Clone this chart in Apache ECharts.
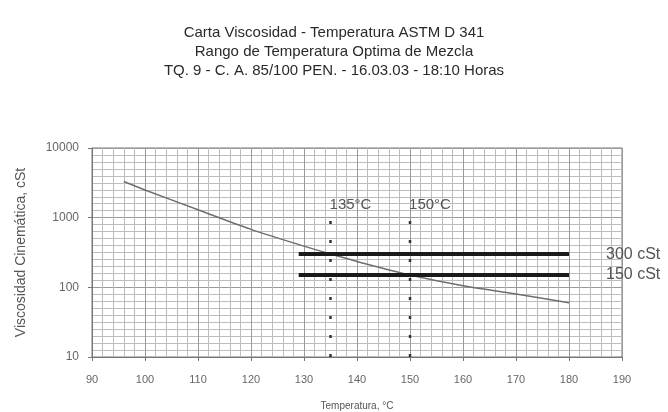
<!DOCTYPE html>
<html>
<head>
<meta charset="utf-8">
<script src="https://cdn.jsdelivr.net/npm/echarts@6/dist/echarts.min.js"></script>
<style>
  html, body { margin: 0; padding: 0; background: #fff; }
  #chart { width: 668px; height: 412px; }
</style>
</head>
<body>
<div id="chart"></div>
<script>
// Viscosity-temperature curve (°C, cSt)
const temperatures = [96, 100, 110, 120, 130, 135, 140, 150, 160, 170, 180];
const viscosities  = [3300, 2500, 1300, 680, 390, 300, 235, 150, 105, 80, 60];

// Mixing viscosity limits (cSt) drawn across the temperature span
const limitValues = [300, 150];
const limitLabels = ['300 cSt', '150 cSt'];
const limitSpan   = [129, 180];

// Optimal mixing temperatures (°C)
const optimalTemps  = [135, 150];
const optimalLabels = ['135°C', '150°C'];
const markerTop     = 1000;

const yTicks = [10, 100, 1000, 10000];

const titleLines = [
  'Carta Viscosidad - Temperatura ASTM D 341',
  'Rango de Temperatura Optima de Mezcla',
  'TQ. 9 - C. A. 85/100 PEN. - 16.03.03 - 18:10 Horas'
];

const font = '"Liberation Sans", Arial, sans-serif';
const chart = echarts.init(document.getElementById('chart'));

const series = [];

// viscosity curve
series.push({
  type: 'line',
  data: temperatures.map((t, i) => [t, viscosities[i]]),
  showSymbol: false,
  smooth: 0.3,
  lineStyle: { color: '#6e6e6e', width: 1.5 },
  z: 5
});

// limit lines
limitValues.forEach((v, i) => {
  series.push({
    type: 'line',
    data: [[limitSpan[0], v], [limitSpan[1], v]],
    showSymbol: false,
    symbol: 'none',
    lineStyle: { color: '#1a1a1a', width: 4 },
    endLabel: {
      show: true, distance: 37,
      formatter: limitLabels[i], fontFamily: font, fontSize: 16, color: '#555'
    },
    z: 6
  });
});

// optimal temperature markers
optimalTemps.forEach((t, i) => {
  series.push({
    type: 'line',
    data: [
      [t, 10],
      { value: [t, markerTop], label: {
        show: true, position: 'top', distance: 5, offset: [20, 0],
        formatter: optimalLabels[i], fontFamily: font, fontSize: 15, color: '#555'
      } }
    ],
    symbol: 'circle',
    symbolSize: 0.1,
    showSymbol: true,
    lineStyle: { color: '#333', width: 2.5, type: [3, 16] },
    z: 4
  });
});

chart.setOption({
  animation: false,
  backgroundColor: '#fff',
  title: {
    text: titleLines.join('\n'),
    left: 'center',
    top: 18,
    textStyle: { fontFamily: font, fontSize: 15, fontWeight: 'normal', color: '#2a2a2a', lineHeight: 19 }
  },
  grid: {
    left: 92, right: 46, top: 148, bottom: 55,
    outerBoundsMode: 'none',
    containLabel: false,
    show: true, borderColor: '#777', borderWidth: 1, backgroundColor: 'transparent'
  },
  xAxis: {
    type: 'value',
    min: 90, max: 190, interval: 10,
    name: 'Temperatura, °C',
    nameLocation: 'middle',
    nameGap: 44,
    nameTextStyle: { fontFamily: font, fontSize: 10, color: '#555' },
    axisLine: { show: true, lineStyle: { color: '#777' } },
    axisTick: { show: true, length: 4, lineStyle: { color: '#777' } },
    axisLabel: { fontFamily: font, fontSize: 11, color: '#666', margin: 17 },
    splitLine: { show: true, lineStyle: { color: '#9a9a9a', width: 1 } },
    minorTick: { show: false, splitNumber: 5 },
    minorSplitLine: { show: true, lineStyle: { color: '#bdbdbd', width: 1 } }
  },
  yAxis: [
    {
      type: 'log',
      logBase: 10,
      min: 10, max: 10000,
      name: 'Viscosidad Cinemática, cSt',
      nameLocation: 'middle',
      nameGap: 64,
      nameTextStyle: { fontFamily: font, fontSize: 14, color: '#555' },
      axisLine: { show: true, lineStyle: { color: '#777' } },
      axisTick: { show: true, length: 4, lineStyle: { color: '#777' } },
      axisLabel: {
        fontFamily: font, fontSize: 12, color: '#666', margin: 13,
        formatter: v => (yTicks.indexOf(Math.round(v)) >= 0 ? String(Math.round(v)) : '')
      },
      splitLine: { show: true, lineStyle: { color: '#9a9a9a', width: 1 } },
      minorSplitLine: { show: false }
    },
    {
      // evenly ruled background paper, ten rows per decade
      type: 'value',
      min: 1, max: 4, interval: 1,
      position: 'left',
      axisLine: { show: false },
      axisTick: { show: false },
      axisLabel: { show: false },
      splitLine: { show: false },
      minorTick: { show: false, splitNumber: 10 },
      minorSplitLine: { show: true, lineStyle: { color: '#bdbdbd', width: 1 } }
    }
  ],
  series: series
});
</script>
</body>
</html>
